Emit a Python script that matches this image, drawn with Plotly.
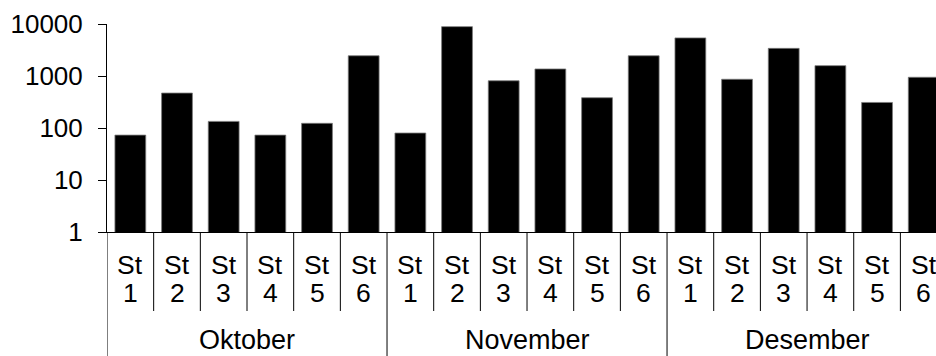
import plotly.graph_objects as go

# Monthly counts per station (log scale)
months = ["Oktober", "November", "Desember"]
stations = ["1", "2", "3", "4", "5", "6"]
oktober = [73, 470, 134, 73, 123, 2450]
november = [80, 8900, 810, 1365, 382, 2450]
desember = [5400, 865, 3400, 1580, 310, 945]
y_tickvals = [1, 10, 100, 1000, 10000]
y_ticktext = ["1", "10", "100", "1000", "10000"]

values = oktober + november + desember
n_st = len(stations)
n = len(values)
xpos = list(range(n))

FONT = "Liberation Sans, Arial, sans-serif"
W, H = 936, 356
ML, MT, MB = 107, 24, 124
plot_h = H - MT - MB
cat_px = 46.67
x_hi = -0.5 + (W - ML) / cat_px


def py(pixel_y):
    """Convert a pixel row to paper coordinates."""
    return (H - MB - pixel_y) / plot_h


fig = go.Figure(go.Bar(
    x=xpos, y=values, width=0.66,
    marker=dict(color="black", line=dict(color="#7a7a7a", width=0.8)),
    hoverinfo="y",
))

shapes = []
annotations = []
for i in range(n):
    month_idx, st_idx = divmod(i, n_st)
    annotations.append(dict(x=i, y=py(264.5), xref="x", yref="paper", text="St",
                            showarrow=False, yanchor="middle",
                            font=dict(family=FONT, size=26.5, color="black")))
    annotations.append(dict(x=i, y=py(292.5), xref="x", yref="paper", text=stations[st_idx],
                            showarrow=False, yanchor="middle",
                            font=dict(family=FONT, size=26.5, color="black")))
    # separator on the left edge of each category
    bottom = py(H) if st_idx == 0 else py(311)
    shapes.append(dict(type="line", xref="x", yref="paper", x0=i - 0.5, x1=i - 0.5,
                       y0=0, y1=bottom, line=dict(color="black", width=1)))

for m, name in enumerate(months):
    centre = m * n_st + (n_st - 1) / 2
    annotations.append(dict(x=centre, y=py(H), xref="x", yref="paper", text=name,
                            showarrow=False, yanchor="bottom", borderpad=0,
                            font=dict(family=FONT, size=27, color="black")))

fig.update_layout(
    width=W, height=H,
    margin=dict(l=ML, r=0, t=MT, b=MB, pad=0),
    paper_bgcolor="white", plot_bgcolor="white",
    showlegend=False,
    shapes=shapes,
    annotations=annotations,
    xaxis=dict(range=[-0.5, x_hi], showline=True, linecolor="black", linewidth=1,
               showticklabels=False, ticks="", showgrid=False, zeroline=False,
               fixedrange=True),
    yaxis=dict(type="log", range=[0, 4], tickvals=y_tickvals, ticktext=y_ticktext,
               ticks="outside", ticklen=8, tickcolor="black", tickwidth=1,
               showline=True, linecolor="black", linewidth=1, showgrid=False,
               zeroline=False, ticklabelstandoff=10,
               tickfont=dict(family=FONT, size=26, color="black"),
               fixedrange=True),
)

fig.write_html("out.html", config={"displayModeBar": False})
